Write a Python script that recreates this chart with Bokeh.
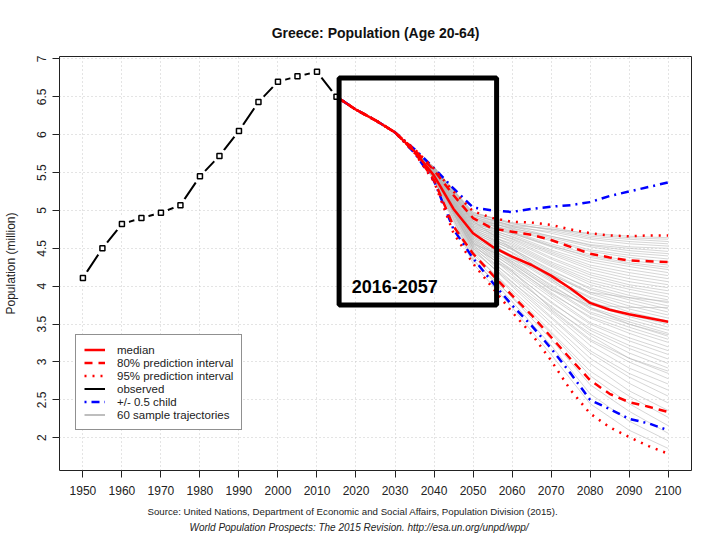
from bokeh.plotting import figure
from bokeh.models import Range1d, FixedTicker, Legend, LegendItem, BoxAnnotation, Label, Title
from bokeh.embed import file_html
from bokeh.resources import INLINE

# ---------------- data ----------------
obs_years = [1950, 1955, 1960, 1965, 1970, 1975, 1980, 1985, 1990, 1995, 2000, 2005, 2010, 2015]
obs_pop = [4.11, 4.50, 4.82, 4.90, 4.97, 5.07, 5.45, 5.72, 6.05, 6.43, 6.70, 6.77, 6.83, 6.50]

proj_years = [2015, 2020, 2025, 2030, 2035, 2040, 2045, 2050, 2055, 2060,
              2065, 2070, 2075, 2080, 2085, 2090, 2095, 2100]
median = [6.50, 6.33, 6.19, 6.03, 5.78, 5.46, 5.02, 4.70, 4.52, 4.39,
          4.28, 4.14, 3.97, 3.78, 3.69, 3.63, 3.58, 3.53]
pi80_upper = [6.50, 6.33, 6.19, 6.03, 5.80, 5.53, 5.20, 4.90, 4.76, 4.72,
              4.68, 4.61, 4.52, 4.43, 4.38, 4.34, 4.33, 4.32]
pi80_lower = [6.50, 6.33, 6.19, 6.03, 5.77, 5.40, 4.79, 4.43, 4.15, 3.88,
              3.62, 3.33, 3.04, 2.76, 2.58, 2.47, 2.41, 2.34]
pi95_upper = [6.50, 6.33, 6.19, 6.03, 5.81, 5.55, 5.25, 4.99, 4.90, 4.85,
              4.84, 4.81, 4.75, 4.70, 4.67, 4.66, 4.67, 4.67]
pi95_lower = [6.50, 6.33, 6.19, 6.03, 5.76, 5.38, 4.70, 4.30, 3.98, 3.66,
              3.37, 3.02, 2.63, 2.32, 2.14, 2.01, 1.89, 1.79]
child_upper = [6.50, 6.33, 6.19, 6.03, 5.81, 5.56, 5.29, 5.04, 5.00, 4.98,
               5.02, 5.05, 5.07, 5.11, 5.19, 5.25, 5.31, 5.37]
child_lower = [6.50, 6.33, 6.19, 6.03, 5.76, 5.39, 4.75, 4.37, 4.05, 3.75,
               3.48, 3.18, 2.85, 2.50, 2.38, 2.25, 2.19, 2.10]

# 60 sample trajectories
traj_years = [2015, 2020, 2025, 2030, 2035, 2040, 2050, 2060, 2070, 2080, 2090, 2100]
traj_start = [6.50, 6.33, 6.19, 6.03, 5.78]
traj_rows = [
    [5.40, 4.30, 3.72, 3.10, 2.45, 2.10, 1.86],
    [5.41, 4.36, 3.80, 3.22, 2.58, 2.22, 1.96],
    [5.41, 4.40, 3.85, 3.30, 2.70, 2.35, 2.06],
    [5.43, 4.34, 3.86, 3.38, 2.82, 2.45, 2.16],
    [5.42, 4.45, 3.92, 3.40, 2.88, 2.55, 2.27],
    [5.44, 4.42, 3.95, 3.48, 2.98, 2.62, 2.36],
    [5.43, 4.50, 4.00, 3.52, 3.05, 2.72, 2.46],
    [5.45, 4.48, 4.02, 3.58, 3.12, 2.80, 2.55],
    [5.44, 4.52, 4.06, 3.60, 3.15, 2.85, 2.63],
    [5.46, 4.46, 4.05, 3.66, 3.22, 2.92, 2.71],
    [5.45, 4.55, 4.10, 3.68, 3.28, 3.00, 2.78],
    [5.47, 4.50, 4.12, 3.74, 3.35, 3.05, 2.85],
    [5.46, 4.58, 4.15, 3.72, 3.38, 3.12, 2.92],
    [5.47, 4.54, 4.18, 3.80, 3.42, 3.18, 2.98],
    [5.48, 4.60, 4.20, 3.78, 3.45, 3.22, 3.04],
    [5.47, 4.56, 4.22, 3.85, 3.50, 3.28, 3.10],
    [5.49, 4.62, 4.25, 3.88, 3.52, 3.32, 3.15],
    [5.48, 4.58, 4.26, 3.92, 3.58, 3.38, 3.20],
    [5.49, 4.64, 4.28, 3.90, 3.60, 3.42, 3.26],
    [5.50, 4.60, 4.30, 3.96, 3.64, 3.46, 3.30],
    [5.49, 4.66, 4.32, 3.98, 3.66, 3.50, 3.34],
    [5.50, 4.62, 4.33, 4.02, 3.70, 3.53, 3.38],
    [5.50, 4.68, 4.36, 4.00, 3.72, 3.56, 3.42],
    [5.51, 4.64, 4.38, 4.06, 3.76, 3.60, 3.46],
    [5.51, 4.70, 4.40, 4.08, 3.80, 3.62, 3.50],
    [5.50, 4.66, 4.41, 4.12, 3.84, 3.66, 3.54],
    [5.52, 4.72, 4.44, 4.10, 3.86, 3.70, 3.58],
    [5.52, 4.68, 4.45, 4.16, 3.90, 3.74, 3.62],
    [5.51, 4.74, 4.48, 4.18, 3.92, 3.78, 3.66],
    [5.53, 4.70, 4.49, 4.22, 3.96, 3.82, 3.70],
    [5.52, 4.76, 4.50, 4.20, 3.98, 3.85, 3.74],
    [5.53, 4.72, 4.52, 4.26, 4.02, 3.88, 3.78],
    [5.53, 4.78, 4.54, 4.28, 4.05, 3.92, 3.82],
    [5.54, 4.74, 4.56, 4.30, 4.08, 3.96, 3.86],
    [5.53, 4.80, 4.58, 4.32, 4.12, 3.99, 3.90],
    [5.54, 4.76, 4.60, 4.36, 4.15, 4.02, 3.94],
    [5.55, 4.82, 4.62, 4.38, 4.18, 4.06, 3.98],
    [5.54, 4.78, 4.63, 4.42, 4.22, 4.10, 4.02],
    [5.55, 4.84, 4.65, 4.44, 4.25, 4.14, 4.06],
    [5.55, 4.80, 4.66, 4.46, 4.28, 4.18, 4.10],
    [5.55, 4.86, 4.68, 4.48, 4.32, 4.22, 4.14],
    [5.56, 4.82, 4.70, 4.52, 4.35, 4.26, 4.18],
    [5.56, 4.88, 4.71, 4.54, 4.38, 4.29, 4.22],
    [5.56, 4.84, 4.70, 4.53, 4.40, 4.31, 4.25],
    [5.55, 4.90, 4.72, 4.56, 4.42, 4.34, 4.28],
    [5.56, 4.86, 4.74, 4.60, 4.46, 4.38, 4.32],
    [5.55, 4.92, 4.75, 4.62, 4.48, 4.41, 4.36],
    [5.56, 4.88, 4.77, 4.64, 4.52, 4.44, 4.40],
    [5.57, 4.94, 4.79, 4.66, 4.54, 4.47, 4.43],
    [5.56, 4.90, 4.76, 4.66, 4.55, 4.50, 4.46],
    [5.57, 4.95, 4.80, 4.70, 4.58, 4.52, 4.50],
    [5.57, 4.92, 4.78, 4.72, 4.62, 4.56, 4.53],
    [5.56, 4.96, 4.83, 4.74, 4.64, 4.59, 4.56],
    [5.57, 4.94, 4.80, 4.76, 4.66, 4.62, 4.59],
    [5.57, 4.97, 4.84, 4.78, 4.68, 4.64, 4.62],
    [5.57, 4.98, 4.82, 4.75, 4.70, 4.66, 4.64],
    [5.44, 4.52, 4.20, 3.70, 3.30, 3.05, 2.88],
    [5.55, 4.86, 4.50, 4.10, 3.72, 3.50, 3.36],
    [5.49, 4.70, 4.30, 3.95, 3.75, 3.72, 3.72],
    [5.46, 4.56, 4.35, 4.15, 3.92, 3.85, 3.80],
]

x_ticks = [1950, 1960, 1970, 1980, 1990, 2000, 2010, 2020, 2030, 2040, 2050,
           2060, 2070, 2080, 2090, 2100]
y_ticks = [2.0, 2.5, 3.0, 3.5, 4.0, 4.5, 5.0, 5.5, 6.0, 6.5, 7.0]
y_tick_labels = ["2", "2.5", "3", "3.5", "4", "4.5", "5", "5.5", "6", "6.5", "7"]

title_text = "Greece: Population (Age 20-64)"
ylabel_text = "Population (million)"
source_line1 = "Source: United Nations, Department of Economic and Social Affairs, Population Division (2015)."
source_line2 = "World Population Prospects: The 2015 Revision. http://esa.un.org/unpd/wpp/"
box_text = "2016-2057"

FONT = "Liberation Sans"
RED = "#FF0000"
BLUE = "#0000FF"
GRAY = "#BEBEBE"

# ---------------- figure ----------------
p = figure(width=712, height=540,
           x_range=Range1d(1944, 2106), y_range=Range1d(1.568, 7.032),
           output_backend="svg", toolbar_location=None,
           min_border_left=57, min_border_right=21,
           min_border_top=56, min_border_bottom=70)

p.background_fill_color = "white"
p.border_fill_color = "white"
p.outline_line_color = "#222222"
p.outline_line_width = 1

p.title.text = title_text
p.title.align = "center"
p.title.text_font = FONT
p.title.text_font_size = "14px"
p.title.text_font_style = "bold"
p.title.text_color = "#111111"
p.title.standoff = 31

# axes
p.xaxis.ticker = FixedTicker(ticks=x_ticks)
p.yaxis.ticker = FixedTicker(ticks=y_ticks)
p.yaxis.major_label_overrides = {t: s for t, s in zip(y_ticks, y_tick_labels)}
p.yaxis.major_label_orientation = "vertical"
for ax in (p.xaxis[0], p.yaxis[0]):
    ax.axis_line_color = None
    ax.major_tick_line_color = "#222222"
    ax.major_tick_in = 0
    ax.major_tick_out = 7
    ax.minor_tick_line_color = None
    ax.major_label_text_font = FONT
    ax.major_label_text_font_size = "12px"
    ax.major_label_text_color = "#222222"
p.xaxis.major_label_standoff = 8
p.yaxis.major_label_standoff = 6
p.yaxis.axis_label = ylabel_text
p.yaxis.axis_label_text_font = FONT
p.yaxis.axis_label_text_font_size = "12px"
p.yaxis.axis_label_text_font_style = "normal"
p.yaxis.axis_label_text_color = "#222222"
p.yaxis.axis_label_standoff = 17

# grid
p.grid.grid_line_color = "#C8C8C8"
p.grid.grid_line_dash = "1 3"
p.grid.grid_line_width = 1

# source captions
t1 = Title(text=source_line1, align="left", text_font=FONT, text_font_size="9.7px",
           text_font_style="normal", text_color="#222222", offset=88, standoff=13)
p.add_layout(t1, "below")
t2 = Title(text=source_line2, align="left", text_font=FONT, text_font_size="10px",
           text_font_style="italic", text_color="#222222", offset=130, standoff=-8)
p.add_layout(t2, "below")

# ---------------- glyphs ----------------
traj_xs = [traj_years for _ in traj_rows]
traj_ys = [traj_start + row for row in traj_rows]
r_traj = p.multi_line(traj_xs, traj_ys, line_color="#B4B4B4", line_width=1, line_alpha=0.55)
r_traj_leg = p.line(x=[float("nan")], y=[float("nan")], line_color=GRAY, line_width=2)

r_obs = p.line(obs_years, obs_pop, line_color="black", line_width=2)
p.scatter(obs_years, obs_pop, marker="circle", size=15, fill_color="white", line_color=None)

r_cu = p.line(proj_years, child_upper, line_color=BLUE, line_width=2.5, line_dash="2 5 8 5")
r_cl = p.line(proj_years, child_lower, line_color=BLUE, line_width=2.5, line_dash="2 5 8 5")
r_95u = p.line(proj_years, pi95_upper, line_color=RED, line_width=2.5, line_dash="2 6")
r_95l = p.line(proj_years, pi95_lower, line_color=RED, line_width=2.5, line_dash="2 6")
r_80u = p.line(proj_years, pi80_upper, line_color=RED, line_width=2.5, line_dash="8 6")
r_80l = p.line(proj_years, pi80_lower, line_color=RED, line_width=2.5, line_dash="8 6")
r_med = p.line(proj_years, median, line_color=RED, line_width=2.5)

p.scatter(obs_years, obs_pop, marker="square", size=5, fill_color="white",
          line_color="black", line_width=1.5)

# highlighted period box and label
box = BoxAnnotation(left=2015.67, right=2056.04, top=6.748, bottom=3.752,
                    fill_color=None, fill_alpha=0, line_color="black",
                    line_alpha=1.0, line_width=5)
p.add_layout(box)
lbl = Label(x=2018.9, y=3.996, text=box_text, text_font=FONT, text_font_size="18px",
            text_font_style="bold", text_color="black", text_baseline="alphabetic")
p.add_layout(lbl)

# legend
legend = Legend(items=[
    LegendItem(label="median", renderers=[r_med]),
    LegendItem(label="80% prediction interval", renderers=[r_80u]),
    LegendItem(label="95% prediction interval", renderers=[r_95u]),
    LegendItem(label="observed", renderers=[r_obs]),
    LegendItem(label="+/- 0.5 child", renderers=[r_cu]),
    LegendItem(label="60 sample trajectories", renderers=[r_traj_leg]),
], location=(16, 40))
legend.border_line_color = "#222222"
legend.border_line_width = 1
legend.background_fill_color = "white"
legend.background_fill_alpha = 1
legend.label_text_font = FONT
legend.label_text_font_size = "11.5px"
legend.label_text_color = "#222222"
legend.glyph_width = 21
legend.glyph_height = 13
legend.label_height = 13
legend.label_standoff = 12
legend.padding = 8
legend.spacing = 0
legend.margin = 0
p.add_layout(legend)

open("out.html", "w").write(file_html(p, INLINE))
